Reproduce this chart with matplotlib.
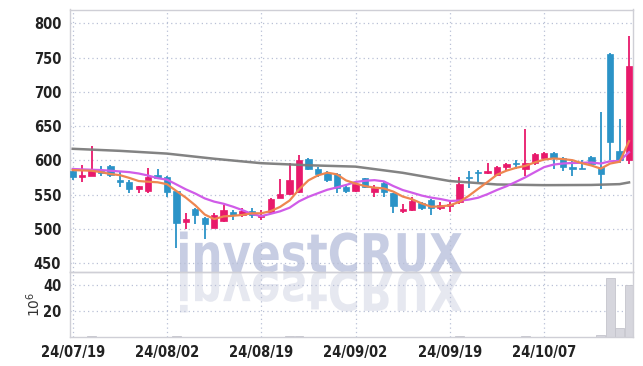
import matplotlib
matplotlib.use('Agg')
import matplotlib.pyplot as plt
import numpy as np
from matplotlib.textpath import TextPath
from matplotlib.patches import PathPatch
from matplotlib.font_manager import FontProperties, fontManager
from matplotlib.transforms import Affine2D

# ---------------- data ----------------
date_labels = ['24/07/19', '24/08/02', '24/08/19', '24/09/02', '24/09/19', '24/10/07']
date_label_idx = [0, 10, 20, 30, 40, 50]

opens = [585, 576.5, 578, 585, 592, 571, 569, 559, 556, 579,
         576, 555, 511, 529, 516, 502, 512, 525, 520, 526,
         518, 525, 546, 551, 554, 602, 587, 582, 580, 561,
         556, 574, 554, 567, 552, 526, 528, 538, 543, 530,
         534, 539, 575, 583, 581, 579, 590, 597, 587, 596,
         604, 611, 603, 591, 589.5, 605, 591, 755, 614, 600]
highs = [588, 594, 621, 592, 594, 585, 572, 563, 589, 587,
         577, 556, 524, 530, 517, 524, 535, 528, 530, 530,
         528, 545, 573, 597, 608, 603, 590, 584, 582, 565,
         567, 575, 564, 568, 553, 537, 547, 540, 544, 540,
         540, 576, 584, 586, 596, 592, 597, 601, 646, 611,
         613, 612, 605, 600, 600, 606, 671, 756, 661, 781]
lows = [572, 568, 577, 578, 576, 561, 553, 552, 552, 573,
        547, 472, 500, 508, 485, 501, 510, 513, 518, 516,
        513, 522, 545, 550, 553, 586, 576, 569, 552, 553,
        554, 560, 547, 547, 523, 524, 526, 528, 521, 528,
        525, 537, 560, 568, 580, 577, 584, 587, 578, 594,
        602, 588, 584, 578, 588, 592, 558, 601, 596, 595]
closes = [576, 579, 586, 581, 579, 568, 559, 563, 576, 575,
          554, 509, 515, 520, 508, 521, 528, 520, 526, 520,
          521, 544, 551, 572, 601, 587, 580, 571, 560, 556,
          565, 561, 560, 554, 533, 529, 541, 530, 530, 535,
          537, 566, 574, 581.5, 585, 590, 595, 594.5, 596, 610,
          611, 603, 590, 588, 588, 594.5, 580, 627, 601, 738]

ma5 = [586, 585.5, 585, 583, 580.2, 578.6, 574.6, 570, 569, 568.2,
       565.4, 555.4, 545.8, 534.6, 521.2, 514.6, 518.4, 519.4, 520.6, 523,
       523, 526.2, 532.4, 541.6, 557.8, 571, 578.2, 582.2, 579.8, 570.8,
       566.4, 562.6, 560.4, 559.2, 554.6, 547.4, 543.4, 537.4, 532.6, 533,
       534.6, 539.6, 548.4, 558.7, 568.7, 579.3, 585.1, 589.2, 592.1, 597.1,
       601.3, 602.9, 602, 600.4, 596, 592.7, 588.1, 595.5, 598.1, 628.1]
ma10 = [587.6, 587, 586.5, 586, 585, 584, 583, 581, 578, 574.2,
        572.0, 565.0, 557.9, 551.8, 544.7, 540.0, 536.9, 532.6, 527.6, 522.1,
        518.8, 522.3, 525.9, 531.1, 540.4, 547.0, 552.2, 557.3, 560.7, 564.3,
        568.7, 570.4, 571.3, 569.5, 562.7, 556.9, 553.0, 548.9, 545.9, 543.8,
        541.0, 541.5, 542.9, 545.7, 550.9, 557.0, 562.4, 568.8, 575.4, 582.9,
        590.3, 594.0, 595.6, 596.3, 596.6, 597.0, 595.5, 598.8, 599.3, 612.1]
ma_long_idx = [0, 5, 10, 15, 20, 25, 30, 35, 40, 45, 50, 55, 58, 59]
ma_long = [617, 614, 610, 602.5, 596, 593, 591, 582, 570, 565, 564, 564.3, 565.5, 568]

volume_m = [0.1, 0.1, 0.9, 0.1, 0.1, 0.1, 0.1, 0.1, 0.1, 0.1,
            0.1, 0.2, 0.1, 0.1, 0.1, 0.1, 0.1, 0.1, 0.1, 0.1,
            0.1, 0.1, 0.1, 0.7, 0.2, 0.1, 0.1, 0.1, 0.1, 0.1,
            0.1, 0.1, 0.1, 0.1, 0.1, 0.1, 0.1, 0.1, 0.1, 0.1,
            0.1, 0.2, 0.1, 0.1, 0.1, 0.1, 0.1, 0.1, 0.9, 0.1,
            0.1, 0.1, 0.1, 0.1, 0.1, 0.1, 1.3, 45.5, 6.5, 40.2]

price_ticks = [450, 500, 550, 600, 650, 700, 750, 800]
vol_ticks = [20, 40]

# ---------------- style ----------------
RED = '#e8196b'
BLUE = '#2b93c7'
ORANGE = '#ee8650'
MAGENTA = '#d05ce8'
GRAY = '#7c7c7c'
GRID = '#b9c0d6'
SPINE = '#cfcfd6'

# pick a condensed face for the tick labels if one is installed
cond = [f for f in fontManager.ttflist
        if ('ondensed' in f.name or 'Narrow' in f.name or 'ondensed' in str(f.stretch)
            or 'ondensed' in f.fname or 'Narrow' in f.fname)]
cond_bold = [f for f in cond if (isinstance(f.weight, int) and f.weight >= 600)
             or str(f.weight) in ('bold', 'semibold', 'demibold', 'heavy')]
if cond_bold:
    tick_fp = FontProperties(fname=cond_bold[0].fname, size=10.5)
elif cond:
    tick_fp = FontProperties(fname=cond[0].fname, size=10.5, weight='bold')
else:
    tick_fp = FontProperties(family='Roboto', weight='bold', size=10)

W_PX, H_PX = 643, 366
fig = plt.figure(figsize=(W_PX / 100, H_PX / 100), dpi=100)
fig.patch.set_facecolor('white')

left_px, right_px = 69.5, 633
top_px, mid_px, bot_px = 9.5, 272.3, 336.7
L = left_px / W_PX
Wd = (right_px - left_px) / W_PX
ax = fig.add_axes([L, (H_PX - mid_px) / H_PX, Wd, (mid_px - top_px) / H_PX])
axv = fig.add_axes([L, (H_PX - bot_px) / H_PX, Wd, (bot_px - mid_px) / H_PX], sharex=ax)

for a in (ax, axv):
    a.set_facecolor('none')
    for s in a.spines.values():
        s.set_color(SPINE)
        s.set_linewidth(1.0)
    a.grid(True, linestyle=(0, (1, 2.5)), color=GRID, linewidth=0.9)
    a.set_axisbelow(True)
    a.tick_params(length=0, labelcolor='#222222', pad=6)

x = np.arange(len(closes))
o = np.array(opens, float)
c = np.array(closes, float)
h = np.array(highs, float)
lo = np.array(lows, float)
cols = np.where(c >= o, RED, BLUE)

ax.vlines(x, lo, h, colors=cols, linewidth=1.3, zorder=2)
body_b = np.minimum(o, c)
body_h = np.maximum(np.abs(c - o), 1.2)
ax.bar(x, body_h, bottom=body_b, width=0.68, color=cols, edgecolor=cols,
       linewidth=0.5, zorder=3)

ax.plot(ma_long_idx, ma_long, color=GRAY, lw=1.8, zorder=4, alpha=0.95)
ax.plot(x, ma10, color=MAGENTA, lw=1.6, zorder=5)
ax.plot(x, ma5, color=ORANGE, lw=1.6, zorder=6)

ax.set_xlim(-0.34, 59.42)
ax.set_ylim(437, 820)
ax.set_yticks(price_ticks)
ax.set_yticklabels([str(t) for t in price_ticks], fontproperties=tick_fp)
ax.set_xticks(date_label_idx)
ax.tick_params(axis='x', labelbottom=False)

axv.bar(x, volume_m, width=0.95, color='#d6d6dd', edgecolor='#c4c4cc',
        linewidth=0.6, zorder=2)
axv.set_ylim(0, 50.1)
axv.set_yticks(vol_ticks)
axv.set_yticklabels([str(t) for t in vol_ticks], fontproperties=tick_fp)
axv.set_xticks(date_label_idx)
axv.set_xticklabels(date_labels, fontproperties=tick_fp)
axv.set_ylabel(r'$10^6$', fontsize=10, color='#333333', labelpad=0,
               family='DejaVu Sans')

# watermark with reflection
fp = FontProperties(family='DejaVu Sans', weight='bold')
tp = TextPath((0, 0), 'investCRUX', size=10, prop=fp)
ext = tp.get_extents()
wx0, wx1 = 180, 462
base_y = H_PX - 272.0
cap = 40.5
sx = (wx1 - wx0) / (ext.x1 - ext.x0)
sy = cap / ext.y1
tr_main = Affine2D().translate(-ext.x0, 0).scale(sx, sy).translate(wx0, base_y)
tr_refl = Affine2D().translate(-ext.x0, 0).scale(sx, -sy).translate(wx0, base_y)
fig.add_artist(PathPatch(tp, transform=tr_main, facecolor='#c7cde3',
                         edgecolor='none', zorder=-1))
fig.add_artist(PathPatch(tp, transform=tr_refl, facecolor='#e6e8f0',
                         edgecolor='none', zorder=-1))

fig.savefig('out.png', dpi=100)
